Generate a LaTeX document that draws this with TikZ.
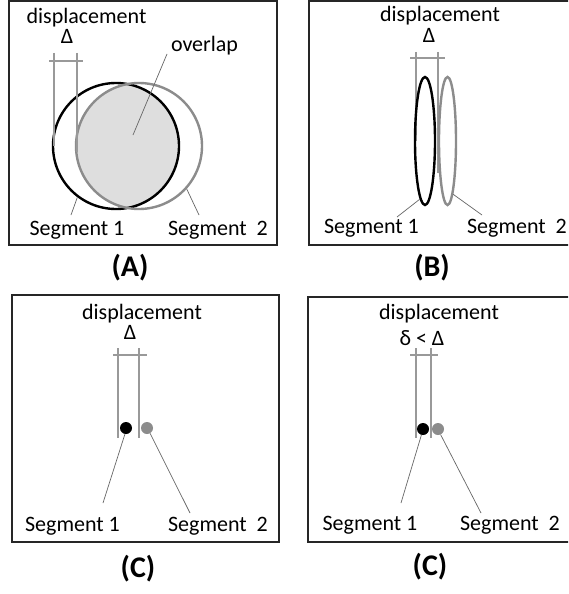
\documentclass[tikz,border=0pt]{standalone}
\usepackage{fontspec}
\setmainfont{Carlito}
\usetikzlibrary{shapes.geometric}
\begin{document}
\begin{tikzpicture}[x=1pt,y=-1pt,
 lbl/.style={font=\fontsize{22}{26}\selectfont, inner sep=0pt, anchor=base},
 captxt/.style={font=\fontsize{30}{34}\selectfont\bfseries, inner sep=0pt, anchor=base},
 frame/.style={draw=black!85, line width=1.8pt},
 dim/.style={draw=black!40, line width=1.2pt},
 lead/.style={draw=black!60, line width=0.7pt},
 seg1/.style={draw=black, line width=2.4pt},
 seg2/.style={draw=black!45, line width=2.4pt},
 dot1/.style={circle, fill=black, minimum size=12pt, inner sep=0pt},
 dot2/.style={circle, fill=black!45, minimum size=12pt, inner sep=0pt}]
\clip (0,0) rectangle (568,594);
\fill[white] (0,0) rectangle (568,594);

% ---------- Panel A ----------
\draw[frame] (9,1) rectangle (277,245);
\begin{scope}
 \clip (116,146) circle[radius=63];
 \fill[black!13] (139,146) circle[radius=63];
\end{scope}
\node[seg1, circle, minimum size=126pt, inner sep=0pt] (a1) at (116,146) {};
\node[seg2, circle, minimum size=126pt, inner sep=0pt] (a2) at (139,146) {};
\node[lbl] (dispa) at (86.5,24) {displacement};
\node[lbl] (dela) at (67,44) {Δ};
\coordinate (daL1) at (54,53); \coordinate (daL2) at (54,146);
\coordinate (daR1) at (77,53); \coordinate (daR2) at (77,152);
\coordinate (daH1) at (49,61); \coordinate (daH2) at (83,61);
\draw[dim] (daL1) -- (daL2);
\draw[dim] (daR1) -- (daR2);
\draw[dim] (daH1) -- (daH2);
\node[lbl] (ova) at (204.5,52) {overlap};
\coordinate (ovs) at (167,54); \coordinate (ovc) at (133,135);
\draw[lead] (ovs) -- (ovc);
\node[lbl] (s1a) at (77,235) {Segment 1};
\node[lbl] (s2a) at (218,235) {Segment\ \ 2};
\coordinate (s1ae) at (71,215); \coordinate (s2ae) at (199,215);
\draw[lead] (s1ae) -- (a1.233);
\draw[lead] (s2ae) -- (a2.318);
\node[captxt] (capa) at (130,276) {(A)};

% ---------- Panel B ----------
\draw[frame] (309,1) rectangle (572,245);
\node[lbl] (dispb) at (440,22) {displacement};
\node[lbl] (delb) at (429,43) {Δ};
\coordinate (dbL1) at (416,52); \coordinate (dbL2) at (416,141);
\coordinate (dbR1) at (438,52); \coordinate (dbR2) at (438,173);
\coordinate (dbH1) at (410,58); \coordinate (dbH2) at (445,58);
\draw[dim] (dbL1) -- (dbL2);
\draw[dim] (dbR1) -- (dbR2);
\draw[dim] (dbH1) -- (dbH2);
\node[seg1, ellipse, minimum width=20pt, minimum height=128pt, inner sep=0pt] (b1) at (425,141) {};
\node[seg2, ellipse, minimum width=17pt, minimum height=128pt, inner sep=0pt] (b2) at (447.5,141) {};
\node[lbl] (s1b) at (371.5,233) {Segment 1};
\node[lbl] (s2b) at (517,233) {Segment\ \ 2};
\coordinate (s1be) at (397,217); \coordinate (s2be) at (482,215);
\draw[lead] (s1be) -- (b1.265);
\draw[lead] (s2be) -- (b2.276);
\node[captxt] (capb) at (432,276) {(B)};

% ---------- Panel C ----------
\draw[frame] (12,295) rectangle (279,542);
\node[lbl] (dispc) at (142,319) {displacement};
\node[lbl] (delc) at (130,339) {Δ};
\coordinate (dcL1) at (118,348); \coordinate (dcL2) at (118,438);
\coordinate (dcR1) at (139,348); \coordinate (dcR2) at (139,438);
\coordinate (dcH1) at (113,355); \coordinate (dcH2) at (147,355);
\draw[dim] (dcL1) -- (dcL2);
\draw[dim] (dcR1) -- (dcR2);
\draw[dim] (dcH1) -- (dcH2);
\node[dot1] (c1) at (126,428) {};
\node[dot2] (c2) at (147,428) {};
\node[lbl] (s1c) at (72.5,531) {Segment 1};
\node[lbl] (s2c) at (218,531) {Segment\ \ 2};
\coordinate (s1ce) at (103,503); \coordinate (s2ce) at (190,513);
\draw[lead] (s1ce) -- (c1.260);
\draw[lead] (s2ce) -- (c2.300);
\node[captxt] (capc) at (138,577) {(C)};

% ---------- Panel D ----------
\draw[frame] (308,297) rectangle (572,542);
\node[lbl] (dispd) at (439,319) {displacement};
\node[lbl] (deld) at (422,345) {δ < Δ};
\coordinate (ddL1) at (416,348); \coordinate (ddL2) at (416,438);
\coordinate (ddR1) at (431,348); \coordinate (ddR2) at (431,438);
\coordinate (ddH1) at (410,355); \coordinate (ddH2) at (438,355);
\draw[dim] (ddL1) -- (ddL2);
\draw[dim] (ddR1) -- (ddR2);
\draw[dim] (ddH1) -- (ddH2);
\node[dot1] (d1) at (423,429) {};
\node[dot2] (d2) at (438,429) {};
\node[lbl] (s1d) at (370,530) {Segment 1};
\node[lbl] (s2d) at (510,530) {Segment\ \ 2};
\coordinate (s1de) at (401,503); \coordinate (s2de) at (481,513);
\draw[lead] (s1de) -- (d1.255);
\draw[lead] (s2de) -- (d2.295);
\node[captxt] (capd) at (430,575) {(C)};
\end{tikzpicture}
\end{document}
